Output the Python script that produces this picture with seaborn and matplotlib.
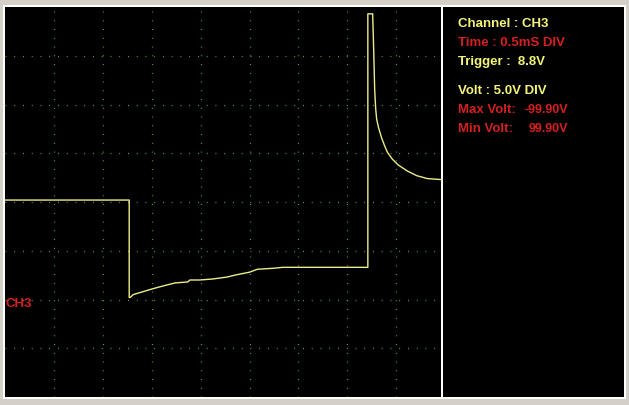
import pandas as pd
import matplotlib.pyplot as plt
import seaborn as sns
from matplotlib.patches import Rectangle

# trace (time in ms, 0.5 ms/div; volts, 5 V/div)
time_ms = [0.0, 1.27, 1.27, 1.28, 1.31, 1.41, 1.51, 1.62, 1.74, 1.87, 1.89,
           1.99, 2.12, 2.27, 2.35, 2.50, 2.58, 2.74, 2.84, 3.02, 3.68, 3.71,
           3.71, 3.76, 3.76, 3.77, 3.78, 3.79, 3.80, 3.82, 3.85, 3.88, 3.91,
           3.96, 4.02, 4.11, 4.21, 4.32, 4.46]
volts = [10.2, 10.2, 0.2, 0.2, 0.5, 0.8, 1.1, 1.4, 1.7, 1.8, 2.0,
         2.0, 2.1, 2.3, 2.5, 2.8, 3.1, 3.2, 3.3, 3.3, 3.3, 3.3,
         29.3, 29.3, 29.0, 25.5, 21.5, 19.6, 18.5, 17.6, 16.6, 15.8, 15.1,
         14.4, 13.8, 13.2, 12.7, 12.4, 12.3]

info_labels = ["Channel : CH3", "Time : 0.5mS DIV", "Trigger :  8.8V",
               "Volt : 5.0V DIV", "Max Volt:", "Min Volt:"]
info_values = ["", "", "", "", "-99.90V", "99.90V"]
info_colors = ["#f4f47a", "#d42020", "#f4f47a", "#f4f47a", "#d42020", "#d42020"]
info_y = [24, 43, 62, 91, 110, 129]

df = pd.DataFrame({"t": time_ms, "v": volts})

W, H = 629, 405
plt.rcParams["font.family"] = ["Liberation Sans", "DejaVu Sans"]
fig = plt.figure(figsize=(W / 100, H / 100), dpi=100, facecolor="#d4d0c8")


def fx(px):
    return px / W


def fy(py):
    return 1 - py / H


# panel borders (behind the scope axes)
for x0, x1 in [(3, 442), (442, 626)]:
    fig.patches.append(Rectangle((fx(x0), fy(399)), fx(x1 - x0), (399 - 5) / H,
                                 transform=fig.transFigure, facecolor="white",
                                 edgecolor="none", zorder=-3))
fig.patches.append(Rectangle((fx(443), fy(397)), fx(181), 390 / H,
                             transform=fig.transFigure, facecolor="black",
                             edgecolor="none", zorder=-2))

ax = fig.add_axes([fx(5), fy(397), fx(436), 390 / H])
ax.set_facecolor("black")

sns.lineplot(data=df, x="t", y="v", sort=False, estimator=None,
             color="#ecec8c", linewidth=1.0, ax=ax, zorder=3)

ax.set_xlim(0, 4.458)
ax.set_ylim(-10, 30)
ax.set_xticks([0.5 * i for i in range(1, 9)])
ax.set_yticks([-5, 0, 5, 10, 15, 20, 25])
ax.grid(True, color="#5fb05f", linewidth=0.9, linestyle=(0, (0.7, 6.3)))
ax.set_axisbelow(True)
ax.tick_params(left=False, bottom=False, labelleft=False, labelbottom=False)
ax.set_xlabel("")
ax.set_ylabel("")
for s in ax.spines.values():
    s.set_visible(False)

fig.text(fx(6), fy(304), "CH3", color="#d42020", fontsize=9.5,
         fontweight="bold", va="center", ha="left")

for lab, val, col, y in zip(info_labels, info_values, info_colors, info_y):
    fig.text(fx(458), fy(y), lab, color=col, fontsize=9.5, fontweight="bold",
             va="center", ha="left")
    if val:
        fig.text(fx(568), fy(y), val, color=col, fontsize=9, fontweight="bold",
                 va="center", ha="right")

fig.savefig("out.png", dpi=100, facecolor=fig.get_facecolor())
